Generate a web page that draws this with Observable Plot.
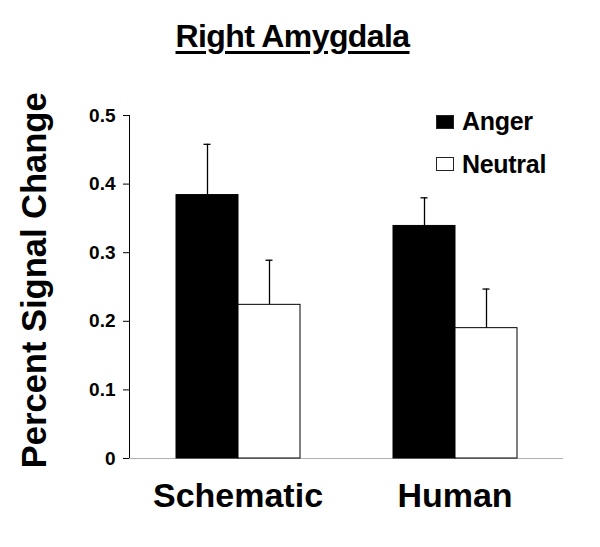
<!DOCTYPE html>
<html><head><meta charset="utf-8">
<script src="https://cdn.jsdelivr.net/npm/d3@7"></script>
<script src="https://cdn.jsdelivr.net/npm/@observablehq/plot@0.6"></script>
<style>
body{margin:0;background:#fff;font-family:"Liberation Sans",Arial,sans-serif}
#wrap{position:relative;width:600px;height:547px;overflow:hidden}
#chart{position:absolute;left:0;top:0}
#title{position:absolute;left:0;top:19.5px;width:585px;text-align:center;font-size:32px;line-height:1;font-weight:bold;letter-spacing:-0.6px;
  text-decoration:underline;text-decoration-thickness:3px;text-underline-offset:4px}
#ylabel{position:absolute;left:-176px;top:262.75px;width:420px;height:34.5px;font-size:34.5px;line-height:1;font-weight:bold;text-align:center;transform:rotate(-90deg);white-space:nowrap}
.leg{position:absolute;left:436px;font-size:25px;line-height:1;font-weight:bold;white-space:nowrap}
.leg .box{position:absolute;left:0;width:18px;height:14px;box-sizing:border-box;border:1px solid #222}
.leg .lab{position:absolute;left:26px;top:0;letter-spacing:-0.3px}
svg [aria-label="y-axis tick label"]{font-size:19px;font-weight:bold}
svg [aria-label="fx-axis tick label"]{font-size:34px;font-weight:bold}
svg [aria-label="y-axis tick"]{stroke:#b0b0b0}
svg [aria-label="y-axis line"]{stroke:#b0b0b0}
</style></head><body>
<div id="wrap">
  <div id="chart"></div>
  <div id="title">Right Amygdala</div>
  <div id="ylabel">Percent Signal Change</div>
  <div id="legend"></div>
</div>
<script>
const categories = ["Schematic", "Human"];
const series = ["Anger", "Neutral"];
const angerValues = [0.384, 0.339];
const neutralValues = [0.224, 0.190];
const angerErrors = [0.074, 0.041];
const neutralErrors = [0.065, 0.057];
const yTicks = [0, 0.1, 0.2, 0.3, 0.4, 0.5];
const seriesFills = ["#000000", "#ffffff"];

const data = [];
categories.forEach((c, i) => {
  data.push({category: c, emotion: series[0], value: angerValues[i], err: angerErrors[i]});
  data.push({category: c, emotion: series[1], value: neutralValues[i], err: neutralErrors[i]});
});

const axisGray = "#b0b0b0";
const chart = Plot.plot({
  width: 600, height: 547,
  marginLeft: 129, marginRight: 37, marginTop: 115, marginBottom: 89,
  style: {fontFamily: '"Liberation Sans", Arial, sans-serif', color: "#000", background: "transparent"},
  fx: {domain: categories, padding: 0, label: null, tickSize: 0, tickPadding: 24},
  x: {domain: series, paddingInner: 0, paddingOuter: 0.736, axis: null},
  y: {domain: [0, 0.5], ticks: yTicks, tickFormat: d3.format("~g"), tickSize: 6, tickPadding: 8, label: null, line: true},
  color: {domain: series, range: seriesFills},
  marks: [
    Plot.ruleY([0], {stroke: axisGray}),
    Plot.ruleX(categories, {fx: d => d, dx: -108.5, insetTop: 343, insetBottom: -6, stroke: axisGray}),
    Plot.ruleX([categories[categories.length - 1]], {fx: d => d, dx: 108.5, insetTop: 343, insetBottom: -6, stroke: axisGray}),
    Plot.barY(data, {fx: "category", x: "emotion", y: "value", fill: "emotion", stroke: "#000", strokeWidth: 1}),
    Plot.ruleX(data, {fx: "category", x: "emotion", y1: "value", y2: d => d.value + d.err, stroke: "#000", strokeWidth: 1.3}),
    Plot.tickY(data, {fx: "category", x: "emotion", y: d => d.value + d.err, insetLeft: 27.5, insetRight: 27.5, stroke: "#000", strokeWidth: 1.3})
  ]
});
document.getElementById("chart").appendChild(chart);

const legend = document.getElementById("legend");
const legTops = [109, 151.5];
series.forEach((s, i) => {
  const item = document.createElement("div");
  item.className = "leg";
  item.style.top = legTops[i] + "px";
  const box = document.createElement("div");
  box.className = "box";
  box.style.background = seriesFills[i];
  box.style.top = (i === 0 ? 6 : 5.5) + "px";
  const lab = document.createElement("div");
  lab.className = "lab";
  lab.textContent = s;
  item.appendChild(box);
  item.appendChild(lab);
  legend.appendChild(item);
});
</script>
</body></html>
